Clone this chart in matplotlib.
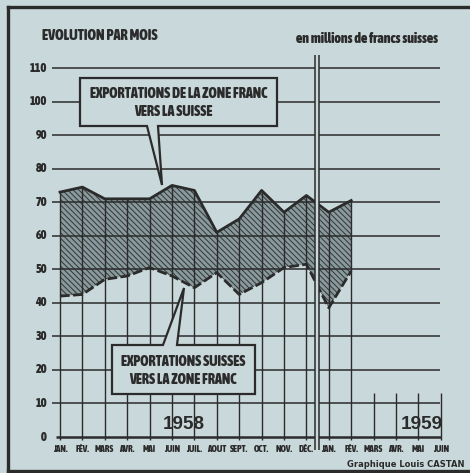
import matplotlib.pyplot as plt
from matplotlib import font_manager
from matplotlib.font_manager import FontProperties
from matplotlib.patches import Polygon

# monthly values, millions of Swiss francs
months = ["JAN.", "FÉV.", "MARS", "AVR.", "MAI", "JUIN", "JUIL.", "AOUT", "SEPT.",
          "OCT.", "NOV.", "DÉC.", "JAN.", "FÉV.", "MARS", "AVR.", "MAI", "JUIN"]
zone_franc_vers_suisse = [73, 74.5, 71, 71, 71, 75, 73.5, 61, 65, 73.5, 67, 72, 67, 70.5]
suisse_vers_zone_franc = [42, 42.5, 47, 48, 50.5, 48, 44.5, 49, 42.5, 46, 50.5, 51.5, 38.5, 49.5]
y_ticks = list(range(0, 120, 10))
years = ["1958", "1959"]

BG = "#c9d8da"
INK = "#2b2b2b"
FILL = "#8a999b"


def weight_of(f):
    w = f.weight
    if isinstance(w, str):
        w = font_manager.weight_dict.get(w, 400)
    return w


# heaviest condensed face we can find, otherwise Roboto Bold
cands = [f for f in font_manager.fontManager.ttflist
         if ("Condensed" in f.name or "Narrow" in f.name or "condensed" in str(f.stretch))
         and f.style == "normal" and weight_of(f) >= 600]
cands.sort(key=lambda f: -weight_of(f))
if cands:
    NARROW_FP = FontProperties(fname=cands[0].fname)
else:
    NARROW_FP = FontProperties(family="Roboto", weight="bold")


def nfp(size):
    fp = NARROW_FP.copy()
    fp.set_size(size)
    return fp


# pixel position in the scan -> data coordinates
def X(px):
    return (px - 60) / 22.4


def Y(py):
    return (437 - py) / 3.3545


fig = plt.figure(figsize=(4.70, 4.73), dpi=100)
fig.patch.set_facecolor(BG)
ax = fig.add_axes([0, 0, 1, 1])
ax.set_xlim(X(0), X(470))
ax.set_ylim(Y(473), Y(0))
ax.axis("off")
renderer = fig.canvas.get_renderer()


def fit(t, width_px):
    # scale a text so that it spans the width it has in the scan
    w = t.get_window_extent(renderer).width
    t.set_fontsize(t.get_fontsize() * width_px / w)
    return t.get_fontsize()


n = len(zone_franc_vers_suisse)
xs = list(range(n))
plt.rcParams["hatch.linewidth"] = 0.7

# hatched band between the two series
ax.fill_between(xs, suisse_vers_zone_franc, zone_franc_vers_suisse,
                facecolor=FILL, edgecolor="#2e3638", hatch="\\\\\\\\\\\\", linewidth=0, zorder=1)

# grid
ax.hlines(y_ticks[1:], X(52), X(440), color=INK, lw=1.1, zorder=2)
ax.hlines(0, X(56), X(441), color=INK, lw=1.8, zorder=2)
ax.vlines(xs, -1, zone_franc_vers_suisse, color=INK, lw=1.0, zorder=2)
ax.vlines(range(n, len(months)), -1, 13, color=INK, lw=1.0, zorder=2)

# series
ax.plot(xs, zone_franc_vers_suisse, color=INK, lw=2.0, zorder=3)
ax.plot(xs, suisse_vers_zone_franc, color=INK, lw=2.0, dashes=(3.5, 1.2), zorder=3)

# year separator (double line)
ax.fill_between([X(315.5), X(319.5)], Y(450), Y(55), color=BG, lw=0, zorder=4)
ax.vlines([X(315.5), X(319.5)], Y(450), Y(55), color=INK, lw=1.1, zorder=5)

# axis labels
t = ax.text(X(47), 110, "110", ha="right", va="center", fontproperties=nfp(10), color=INK)
size = fit(t, 17)
for v in y_ticks[:-1]:
    ax.text(X(47), v, str(v), ha="right", va="center", fontproperties=nfp(size), color=INK)

t = ax.text(2, Y(449), months[2], ha="center", va="center", fontproperties=nfp(8), color=INK)
size = fit(t, 19)
for i, m in enumerate(months):
    if i != 2:
        ax.text(i, Y(449), m, ha="center", va="center", fontproperties=nfp(size), color=INK)

for xp, yr in zip([184, 422], years):
    t = ax.text(X(xp), Y(424), yr, ha="center", va="center", fontsize=13.5,
                family="Liberation Sans", fontweight="bold", color=INK)
    fit(t, 42)

t = ax.text(X(42), Y(36), "EVOLUTION PAR MOIS", ha="left", va="center", fontproperties=nfp(12), color=INK)
fit(t, 116)
t = ax.text(X(438), Y(39), "en millions de francs suisses", ha="right", va="center",
            fontproperties=nfp(9), color=INK)
fit(t, 143)
t = ax.text(X(465), Y(464), "Graphique Louis CASTAN", ha="right", va="center",
            fontsize=6, family="DejaVu Sans", fontweight="bold", color=INK)
fit(t, 118)


# callout boxes
def callout(x0, x1, y0, y1, b0, b1, tip, top):
    yb = y1 if top else y0
    ye = y0 if top else y1
    pts = [(X(x0), Y(ye)), (X(x1), Y(ye)), (X(x1), Y(yb)), (X(b1), Y(yb)),
           (X(tip[0]), Y(tip[1])), (X(b0), Y(yb)), (X(x0), Y(yb))]
    ax.add_patch(Polygon(pts, closed=True, facecolor=BG, edgecolor=INK, lw=1.6, zorder=6))


callout(80, 277, 78, 126, 147, 158, (162, 185), top=True)
t = ax.text(X(179), Y(94), "EXPORTATIONS DE LA ZONE FRANC", ha="center", va="center",
            fontproperties=nfp(10), color=INK, zorder=7)
size = fit(t, 178)
ax.text(X(173), Y(112), "VERS LA SUISSE", ha="center", va="center",
        fontproperties=nfp(size), color=INK, zorder=7)

callout(112, 255, 345, 394, 163, 177, (184, 288), top=False)
ax.text(X(183), Y(362), "EXPORTATIONS SUISSES", ha="center", va="center",
        fontproperties=nfp(size), color=INK, zorder=7)
ax.text(X(183), Y(380), "VERS LA ZONE FRANC", ha="center", va="center",
        fontproperties=nfp(size), color=INK, zorder=7)

# outer frame
ax.plot([X(8), X(8)], [Y(471), Y(7)], color=INK, lw=2.4, clip_on=False, zorder=8)
ax.plot([X(8), X(470)], [Y(7), Y(7)], color=INK, lw=2.4, clip_on=False, zorder=8)
ax.plot([X(8), X(470)], [Y(471), Y(471)], color=INK, lw=2.4, clip_on=False, zorder=8)

fig.savefig("out.png", dpi=100, facecolor=BG)
